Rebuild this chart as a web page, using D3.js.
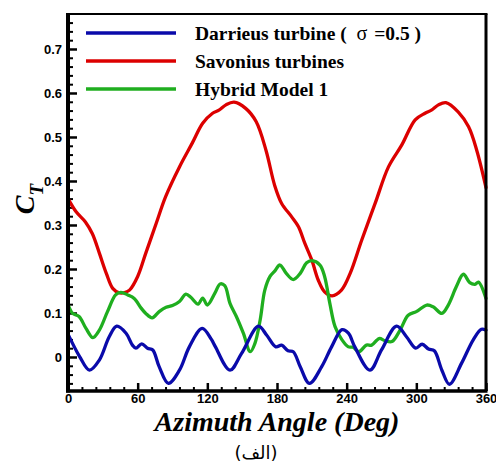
<!DOCTYPE html>
<html><head><meta charset="utf-8">
<script src="https://cdn.jsdelivr.net/npm/d3@7"></script>
<style>body{margin:0;background:#fff}svg{display:block}</style>
</head><body>
<svg id="c" width="496" height="466"></svg>
<script>
// ---- data ----
const savoniusAngle = [0,7,15,21,27,33,38.5,44,48,53,60,67,76,84,96,107,116,124.5,130,136,143,153,162,170.5,178,184,192.5,198.5,204,210,215.5,221,227.5,235.5,243,253,264.5,276,287.5,299,307.5,313,319,325.5,336,345,352,360];
const savoniusCT    = [0.36,0.33,0.307,0.28,0.236,0.19,0.156,0.146,0.146,0.152,0.183,0.236,0.304,0.364,0.432,0.486,0.531,0.554,0.561,0.573,0.579,0.565,0.535,0.47,0.39,0.349,0.319,0.296,0.258,0.22,0.175,0.148,0.139,0.152,0.19,0.266,0.349,0.432,0.482,0.539,0.554,0.561,0.573,0.578,0.557,0.523,0.47,0.385];

const darrieusAngle = [0,10,18.5,27,35.5,42,50,55.5,58.5,63.5,68.5,73,78.5,86.5,96,104.5,115.5,123.5,127,139.5,149.5,164,171,179,184,189.5,194,200,208,218.5,227,236,241.5,247,260,270,283,291.5,299.5,305,310.5,315.5,322,328.5,339,349,356,360];
const darrieusCT    = [0.052,0.001,-0.03,-0.007,0.046,0.07,0.054,0.027,0.02,0.03,0.02,0.016,-0.022,-0.06,-0.03,0.023,0.065,0.04,0.023,-0.03,0.008,0.07,0.05,0.023,0.027,0.014,0.012,-0.022,-0.06,-0.022,0.023,0.062,0.054,0.023,-0.03,0.016,0.07,0.046,0.02,0.029,0.018,0.014,-0.03,-0.062,-0.014,0.039,0.063,0.061];

const hybridAngle = [0,4,9.5,15.5,21.5,27,34,41,45.5,51.5,57,63,67,72.5,78.5,84.5,90,96,101.5,106,112,116,120,126.5,131,135,139.5,145,151,157,161,165.5,169.5,174,178,182.5,188,194,200,205.5,210,217,221,225.5,230,236,241.5,245.5,250.5,257,261.5,268,273,279,286,293,300,309,314.5,322,327.5,334.5,340.5,346,350.5,353.5,360];
const hybridCT    = [0.12,0.099,0.092,0.065,0.044,0.061,0.103,0.141,0.147,0.141,0.133,0.111,0.099,0.089,0.103,0.113,0.117,0.126,0.143,0.135,0.12,0.134,0.118,0.145,0.166,0.162,0.122,0.092,0.054,0.012,0.031,0.084,0.152,0.183,0.195,0.209,0.19,0.176,0.19,0.214,0.219,0.209,0.183,0.122,0.069,0.039,0.023,0.022,0.012,0.027,0.027,0.042,0.037,0.035,0.061,0.095,0.103,0.118,0.114,0.099,0.118,0.16,0.188,0.169,0.165,0.17,0.133];

const xTicks = [0,60,120,180,240,300,360];
const yTicks = [0,0.1,0.2,0.3,0.4,0.5,0.6,0.7];
const seriesNames = ["Darrieus turbine ( ", "Savonius turbines", "Hybrid Model 1"];
const seriesColors = ["#0a0aaa","#dc0000","#1fae1f"];

// ---- layout ----
const L = 68, R = 486, T = 14, B = 391;
const svg = d3.select("#c");
svg.append("rect").attr("width",496).attr("height",466).attr("fill","#fff");

const x = d3.scaleLinear().domain([0,360]).range([L,R]);
const y = d3.scaleLinear().domain([-0.0773,0.7795]).range([B,T]);

// minor ticks
const yMinor = d3.range(-6,78,2).map(v=>v/100).filter(v=>Math.abs(v*10-Math.round(v*10))>1e-6);
const xMinor = d3.range(0,361,12).filter(v=>v%60!==0);

svg.append("g").attr("transform",`translate(${L},0)`)
  .call(d3.axisLeft(y).tickValues(yMinor).tickSizeInner(-5).tickSizeOuter(0).tickFormat(""));
const gy = svg.append("g").attr("transform",`translate(${L},0)`)
  .call(d3.axisLeft(y).tickValues(yTicks).tickSizeInner(-9).tickSizeOuter(0).tickPadding(6)
    .tickFormat(d=>d===0?"0":d3.format(".1f")(d)));
svg.append("g").attr("transform",`translate(0,${B})`)
  .call(d3.axisBottom(x).tickValues(xMinor).tickSizeInner(-4).tickSizeOuter(0).tickFormat(""));
const gx = svg.append("g").attr("transform",`translate(0,${B})`)
  .call(d3.axisBottom(x).tickValues(xTicks).tickSizeInner(-8).tickSizeOuter(0).tickPadding(3)
    .tickFormat(d3.format("d")));

svg.selectAll(".domain").remove();
svg.selectAll(".tick line").attr("stroke","#000").attr("stroke-width",2);
gy.selectAll(".tick line").attr("stroke-width",2.5);
gx.selectAll(".tick line").attr("stroke-width",2.5);
svg.selectAll(".tick text").attr("fill","#000")
  .style("font-family","'Liberation Sans',Arial,sans-serif").style("font-weight","bold").style("font-size","13px");

// curves
const line = d3.line().x(d=>x(d[0])).y(d=>y(d[1])).curve(d3.curveCatmullRom.alpha(0.5));
const series = [
  d3.zip(darrieusAngle, darrieusCT),
  d3.zip(savoniusAngle, savoniusCT),
  d3.zip(hybridAngle, hybridCT)
];
const plot = svg.append("g");
[1,2,0].forEach(i=>{
  plot.append("path").datum(series[i]).attr("d",line)
    .attr("fill","none").attr("stroke",seriesColors[i]).attr("stroke-width",3.3)
    .attr("stroke-linejoin","round").attr("stroke-linecap","round");
});

// frame
svg.append("line").attr("x1",L).attr("x2",R+1.5).attr("y1",T).attr("y2",T).attr("stroke","#000").attr("stroke-width",2.2);
svg.append("line").attr("x1",R).attr("x2",R).attr("y1",T).attr("y2",B).attr("stroke","#000").attr("stroke-width",3);
svg.append("line").attr("x1",L-2).attr("x2",R+1.5).attr("y1",B).attr("y2",B).attr("stroke","#000").attr("stroke-width",3.5);
svg.append("line").attr("x1",L).attr("x2",L).attr("y1",T-1).attr("y2",B+1.5).attr("stroke","#000").attr("stroke-width",4);

// legend
const legY = [33,61,89];
const leg = svg.append("g");
seriesNames.forEach((n,i)=>{
  leg.append("line").attr("x1",86).attr("x2",176).attr("y1",legY[i]).attr("y2",legY[i])
    .attr("stroke",seriesColors[i]).attr("stroke-width",3.5);
  const t = leg.append("text").attr("x",195).attr("y",legY[i]+7)
    .style("font-family","'Liberation Serif','Times New Roman',serif").style("font-weight","bold")
    .style("font-size","19.5px").attr("fill","#000").text(n);
  if(i===0){
    t.append("tspan").attr("dx",5).style("font-weight","normal").style("font-size","20px").text("σ");
    t.append("tspan").attr("dx",2).text(" =0.5 )");
  }
});

// axis titles
svg.append("text").attr("x",277).attr("y",431).attr("text-anchor","middle")
  .style("font-family","'Liberation Serif','Times New Roman',serif").style("font-weight","bold")
  .style("font-style","italic").style("font-size","28px").attr("fill","#000")
  .text("Azimuth Angle (Deg)");

const yt = svg.append("text").attr("transform","translate(34,199) rotate(-90)").attr("text-anchor","middle")
  .style("font-family","'Liberation Serif','Times New Roman',serif").style("font-weight","bold")
  .style("font-style","italic").style("font-size","28px").attr("fill","#000");
yt.append("tspan").text("C");
yt.append("tspan").attr("dy",9).style("font-size","19px").text("T");

svg.append("text").attr("x",256).attr("y",459).attr("text-anchor","middle")
  .style("font-family","'DejaVu Sans',sans-serif").style("font-size","18px").attr("fill","#000")
  .text("(الف)");
</script>
</body></html>
